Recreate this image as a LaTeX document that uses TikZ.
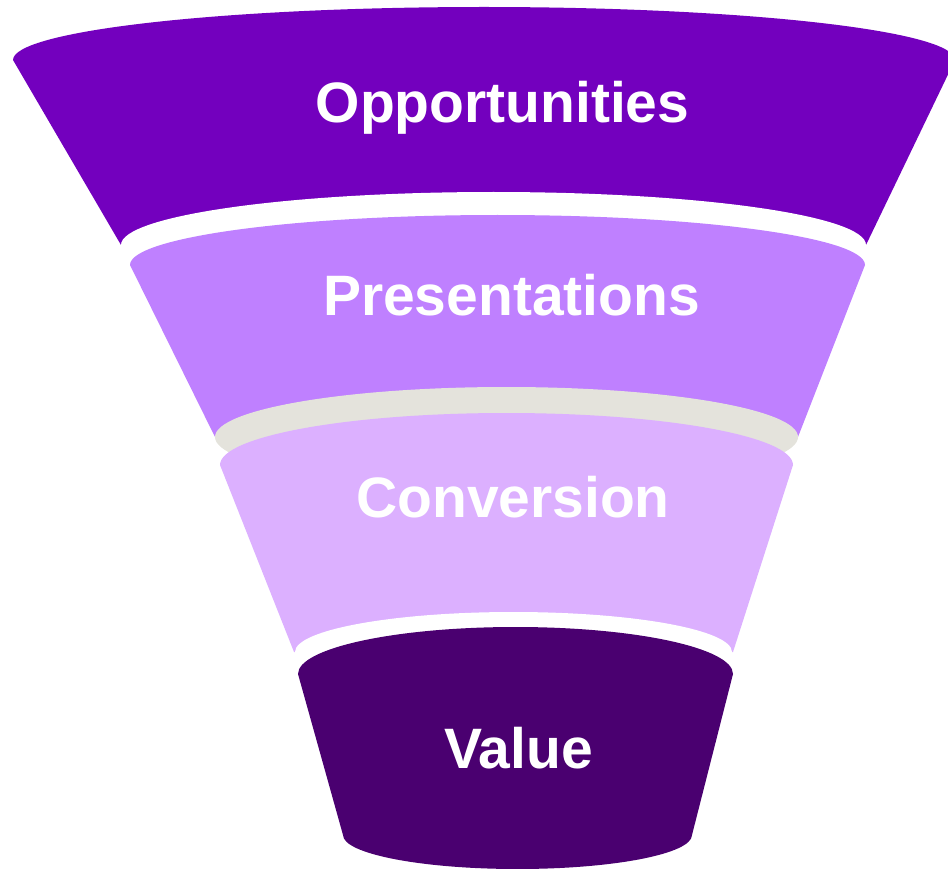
\documentclass[tikz,border=0pt]{standalone}
\usepackage{fontspec}
\setmainfont{Liberation Sans}
\definecolor{oppfill}{RGB}{115,0,190}
\definecolor{presfill}{RGB}{191,128,255}
\definecolor{convfill}{RGB}{220,176,255}
\definecolor{valfill}{RGB}{74,0,112}
\definecolor{rimgray}{RGB}{228,227,220}
\begin{document}
\begin{tikzpicture}[x=1pt,y=1pt,yscale=-1,
  bandtext/.style={text=white,font=\fontsize{57}{60}\selectfont\bfseries,anchor=base,inner sep=0pt}]
\useasboundingbox (0,0) rectangle (948,869);

% Opportunities band
\fill[oppfill] (13,60) arc[start angle=180,end angle=360,x radius=471,y radius=53]
  -- (866,245) -- (121,245) -- cycle;
\fill[white] (493.5,245) ellipse[x radius=372.5,y radius=53];

% Presentations band
\fill[presfill] (130,265) arc[start angle=180,end angle=360,x radius=367.5,y radius=50]
  -- (798,437) -- (215,437) -- cycle;
\fill[rimgray] (506.5,437) ellipse[x radius=291.5,y radius=50];

% Conversion band
\fill[convfill] (220,465) arc[start angle=180,end angle=360,x radius=286.5,y radius=52]
  -- (733,652) -- (294,652) -- cycle;
\fill[white] (513.5,652) ellipse[x radius=218.5,y radius=40];

% Value band
\fill[valfill] (298,674) arc[start angle=180,end angle=360,x radius=217.5,y radius=47]
  -- (692,835) arc[start angle=0,end angle=180,x radius=174.5,y radius=34] -- cycle;

% Labels
\node[bandtext] (opp) at (502.5,123) {Opportunities};
\node[bandtext] (pres) at (511.5,316) {Presentations};
\node[bandtext] (conv) at (513,517) {Conversion};
\node[bandtext] (val) at (518.5,768) {Value};
\end{tikzpicture}
\end{document}
